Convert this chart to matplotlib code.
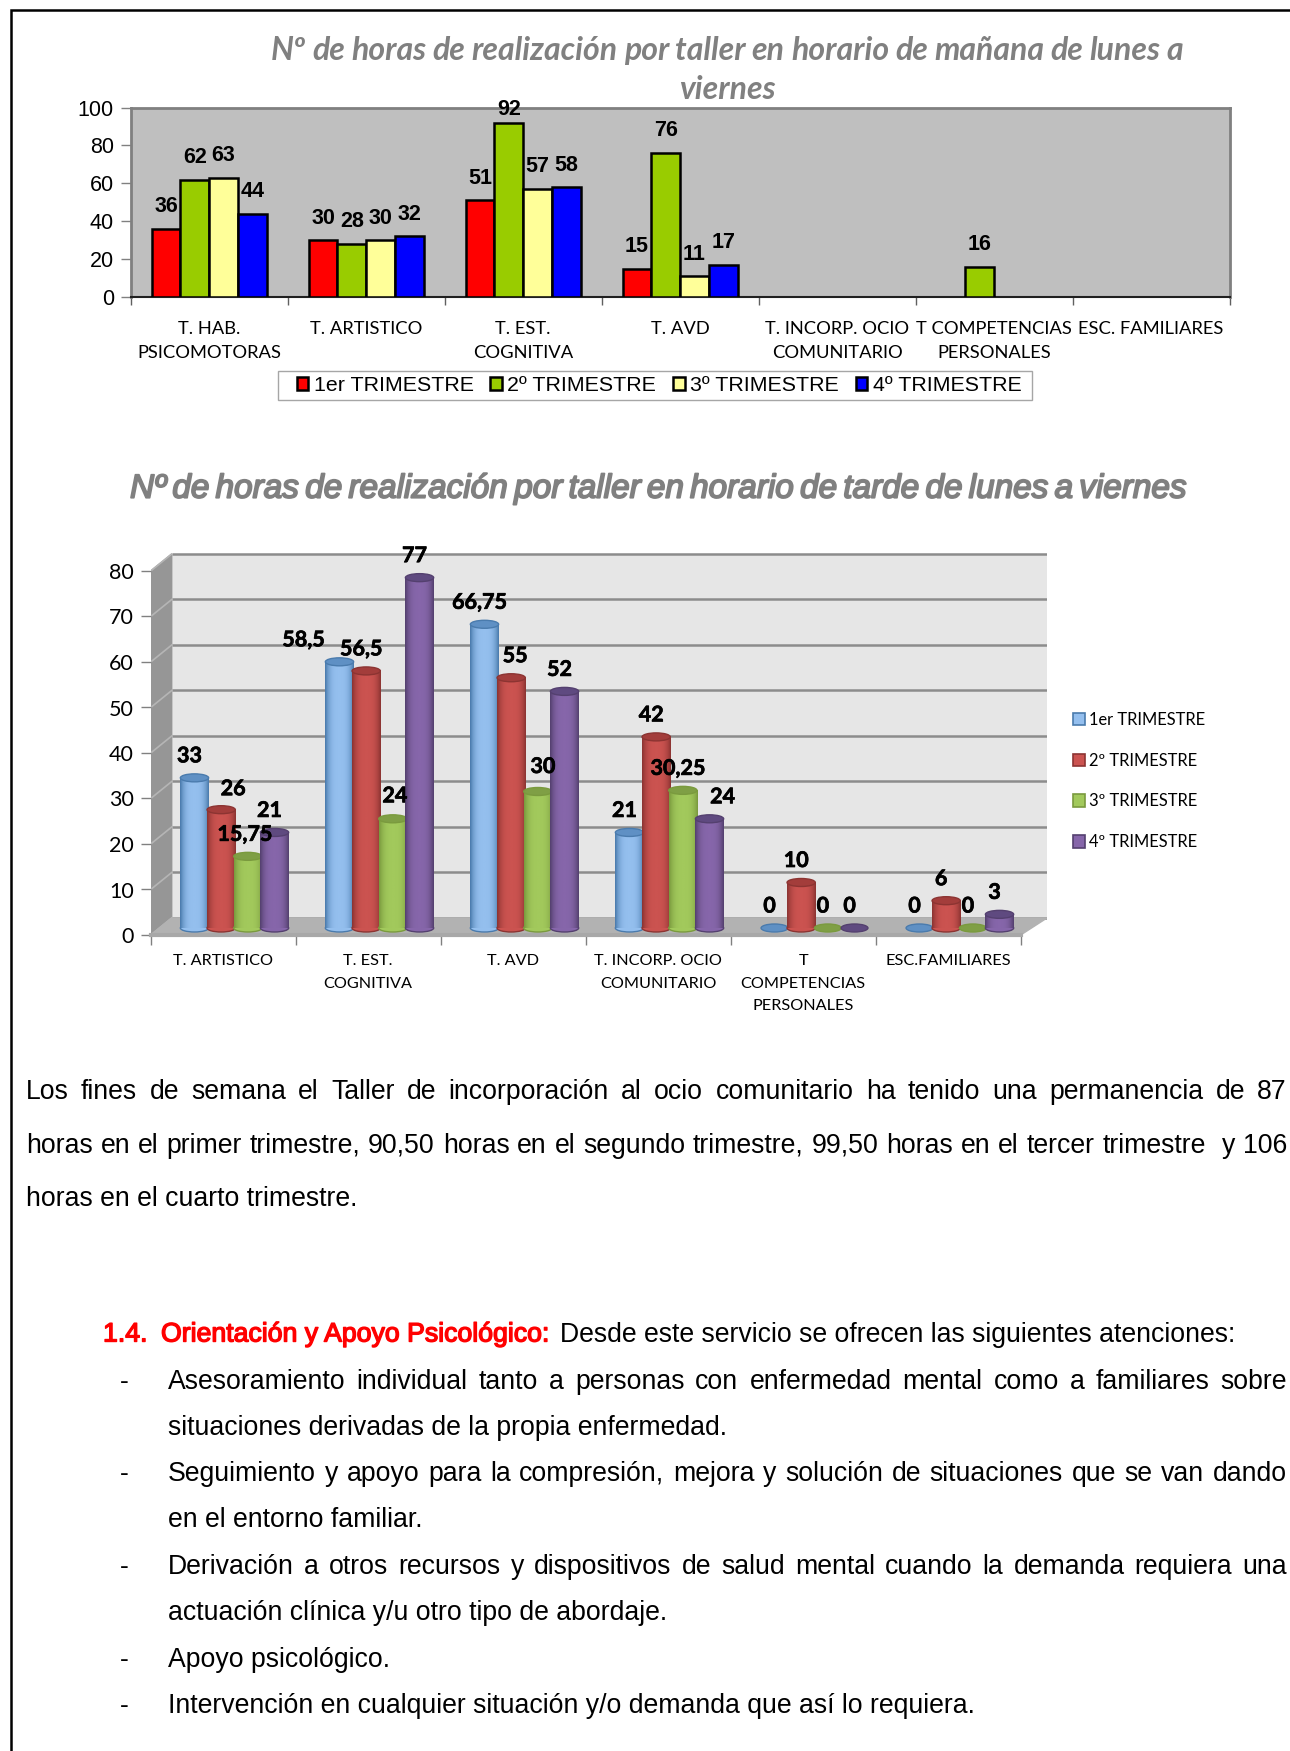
import matplotlib
matplotlib.use('Agg')
import matplotlib.pyplot as plt
import matplotlib.patheffects as pe
from matplotlib.colors import LinearSegmentedColormap
from matplotlib.patches import Ellipse, Patch, Polygon, Rectangle
import numpy as np

W, H = 1290, 1751
nan = float('nan')

# --- chart 1, mañana
cats1 = ['T. HAB.\nPSICOMOTORAS', 'T. ARTISTICO', 'T. EST.\nCOGNITIVA', 'T. AVD',
         'T. INCORP. OCIO\nCOMUNITARIO', 'T COMPETENCIAS\nPERSONALES', 'ESC. FAMILIARES']
m_t1 = [36, 30, 51, 15, nan, nan, nan]
m_t2 = [62, 28, 92, 76, nan, 16, nan]
m_t3 = [63, 30, 57, 11, nan, nan, nan]
m_t4 = [44, 32, 58, 17, nan, nan, nan]
labels1 = ['1er TRIMESTRE', '2º TRIMESTRE', '3º TRIMESTRE', '4º TRIMESTRE']
colors1 = ['#ff0000', '#99cc00', '#ffff99', '#0000ff']

# --- chart 2, tarde
cats2 = ['T. ARTISTICO', 'T. EST.\nCOGNITIVA', 'T. AVD', 'T. INCORP. OCIO\nCOMUNITARIO',
         'T\nCOMPETENCIAS\nPERSONALES', 'ESC.FAMILIARES']
t_t1 = [33, 58.5, 66.75, 21, 0, 0]
t_t2 = [26, 56.5, 55, 42, 10, 6]
t_t3 = [15.75, 24, 30, 30.25, 0, 0]
t_t4 = [21, 77, 52, 24, 0, 3]
labels2 = ['1er TRIMESTRE', '2º TRIMESTRE', '3º TRIMESTRE', '4º TRIMESTRE']
# borde, centro, tapa
cyl_colors = [('#4a7bad', '#94bfee', '#5f90c4'),
              ('#8c3432', '#cb5350', '#a33d3b'),
              ('#7a9a3e', '#a2c95c', '#7f9f45'),
              ('#54406f', '#8666aa', '#5f4a80')]

# texto
par1 = ['Los fines de semana el Taller de incorporación al ocio comunitario ha tenido una permanencia de 87',
        'horas en el primer trimestre, 90,50 horas en el segundo trimestre, 99,50 horas en el tercer trimestre  y 106']
par1_end = 'horas en el cuarto trimestre.'
items = [('Asesoramiento individual tanto a personas con enfermedad mental como a familiares sobre', True, 1388.5, True),
         ('situaciones derivadas de la propia enfermedad.', False, 1434.5, False),
         ('Seguimiento y apoyo para la compresión, mejora y solución de situaciones que se van dando', True, 1481, True),
         ('en el entorno familiar.', False, 1527, False),
         ('Derivación a otros recursos y dispositivos de salud mental cuando la demanda requiera una', True, 1573.5, True),
         ('actuación clínica y/u otro tipo de abordaje.', False, 1620, False),
         ('Apoyo psicológico.', True, 1666.5, False),
         ('Intervención en cualquier situación y/o demanda que así lo requiera.', True, 1713, False)]

BODY = 'Liberation Sans'
CALI = 'Lato'
BODY_SIZE = 19.2

fig = plt.figure(figsize=(W / 100, H / 100), dpi=100, facecolor='white')
rend = fig.canvas.get_renderer()


def put(x, y, s, **kw):
    kw.setdefault('va', 'baseline')
    return fig.text(x / W, 1 - y / H, s, **kw)


def justify(s, x0, x1, y, **kw):
    words = s.split(' ')
    tt = [put(x0, y, w, **kw) if w else None for w in words]
    ww = [t.get_window_extent(rend).width if t else 0 for t in tt]
    gap = (x1 - x0 - sum(ww)) / (len(words) - 1)
    x = x0
    for t, w in zip(tt, ww):
        if t:
            t.set_x(x / W)
        x += w + gap


def px_axes(x0, y_top, x1, y_bot):
    return fig.add_axes([x0 / W, 1 - y_bot / H, (x1 - x0) / W, (y_bot - y_top) / H])


def fake_bold(color, lw=0.9):
    return [pe.withStroke(linewidth=lw, foreground=color)]


# marco de la página
frame = fig.add_axes([0, 0, 1, 1], zorder=-5)
frame.set_xlim(0, W)
frame.set_ylim(H, 0)
frame.axis('off')
frame.plot([11, 11, W], [H, 10, 10], color='black', lw=1.8, solid_joinstyle='miter')
# caja de la leyenda de arriba
frame.add_patch(Rectangle((278, 371), 754, 29, facecolor='white', edgecolor='#a6a6a6', lw=1))

# ---------- chart 1
justify('Nº de horas de realización por taller en horario de mañana de lunes a', 271, 1183, 60.2,
        family=CALI, style='italic', weight='bold', fontsize=23, color='#808080')
put(727, 99.2, 'viernes', family=CALI, style='italic', weight='bold', fontsize=23, color='#808080', ha='center')

ax1 = px_axes(130.6, 107.5, 1229.6, 297)
ax1.set_facecolor('#bfbfbf')
x1 = np.arange(len(cats1))
bw1 = 0.183
series1 = [m_t1, m_t2, m_t3, m_t4]
label_off1 = {(2, 1): 13}
for k, vals in enumerate(series1):
    pos = x1 + (k - 1.5) * bw1
    ax1.bar(pos, vals, bw1, color=colors1[k], edgecolor='black', lw=1.8, zorder=3, label=labels1[k])
    for i, v in enumerate(vals):
        if not np.isnan(v):
            ax1.annotate(str(v), (pos[i], v), xytext=(0, label_off1.get((i, k), 22)),
                         textcoords='offset pixels', ha='center', va='center', family=BODY,
                         weight='bold', fontsize=15.5, color='black', zorder=5, annotation_clip=False)
ax1.set_xlim(-0.5, len(cats1) - 0.5)
ax1.set_ylim(0, 100)
ax1.set_yticks(range(0, 101, 20))
ax1.tick_params(axis='y', labelsize=15.5, length=7, color='#808080', width=1, pad=5)
for t in ax1.get_yticklabels():
    t.set_family(BODY)
ax1.set_xticks(np.arange(len(cats1) + 1) - 0.5)
ax1.set_xticklabels([])
ax1.tick_params(axis='x', which='major', length=6, color='#606060', width=1)
ax1.set_xticks(x1, cats1, minor=True)
ax1.tick_params(axis='x', which='minor', length=0, pad=17, labelsize=13.2)
for t in ax1.get_xticklabels(minor=True):
    t.set_family(CALI)
    t.set_linespacing(1.65)
for s in ['top', 'right', 'left']:
    ax1.spines[s].set_color('#808080')
    ax1.spines[s].set_linewidth(2)
ax1.spines['bottom'].set_color('#202020')
ax1.spines['bottom'].set_linewidth(1.5)
leg1 = ax1.legend(ncol=4, loc='center', bbox_to_anchor=(659 / W, 1 - 385.5 / H), bbox_transform=fig.transFigure,
                  frameon=False, prop={'family': BODY, 'size': 15.4}, handlelength=0.55, handleheight=0.6,
                  handletextpad=0.25, columnspacing=0.78, borderpad=0, borderaxespad=0)

# ---------- chart 2
justify('Nº de horas de realización por taller en horario de tarde de lunes a viernes', 130, 1187, 497.7,
        family=BODY, style='italic', fontsize=24, color='#808080', path_effects=fake_bold('#808080', 1.3))

px_cat = 145.0
px_unit = 4.55
x_right = 1047
ax2 = px_axes(150.7, 553, x_right, 935)
ax2.set_xlim(-0.5, (x_right - 150.7) / px_cat - 0.5)
ax2.set_ylim(0, (935 - 553) / px_unit)
ax2.set_facecolor('white')
dep_x = 21 / px_cat
dep_y = 17 / px_unit
n2 = len(cats2)
x_end = ax2.get_xlim()[1]
wall_l = -0.5 + dep_x

ax2.add_patch(Polygon([(wall_l, dep_y), (x_end, dep_y), (x_end, 80 + dep_y), (wall_l, 80 + dep_y)],
                      color='#e6e6e6', zorder=1))
ax2.add_patch(Polygon([(-0.5, 0), (wall_l, dep_y), (wall_l, 80 + dep_y), (-0.5, 80)],
                      color='#969696', zorder=1))
ax2.add_patch(Polygon([(-0.5, 0), (n2 - 0.5, 0), (x_end, dep_y), (wall_l, dep_y)],
                      color='#b2b2b2', zorder=1.5))
for v in range(0, 90, 10):
    ax2.plot([wall_l, x_end], [v + dep_y] * 2, color='#8c8c8c', lw=1.8, zorder=1.2, solid_capstyle='butt')
    ax2.plot([-0.5, wall_l], [v, v + dep_y], color='#b5b5b5', lw=1.2, zorder=1.2)
ax2.plot([-0.5, n2 - 0.5], [0, 0], color='#a8a8a8', lw=3, zorder=1.6, clip_on=False)

series2 = [t_t1, t_t2, t_t3, t_t4]
cx = np.arange(n2) + 0.078
step = 0.184
bw2 = 0.195
base = 7 / px_unit
cap_h = 8 / px_unit
x2 = np.arange(n2)
label_off2 = {(1, 0): (-36, 22), (0, 1): (12, 21), (1, 2): (2, 23), (2, 1): (4, 22), (2, 2): (5, 25),
              (3, 3): (13, 22), (0, 2): (-3, 22)}
grad = np.abs(np.linspace(-1, 1, 40)) ** 3
grad = grad[None, :]
for k, vals in enumerate(series2):
    edge, mid, top = cyl_colors[k]
    cmap = LinearSegmentedColormap.from_list('c%d' % k, [mid, edge])
    pos = cx + (k - 1.5) * step
    for i, v in enumerate(vals):
        z = 3 + k * 0.1 + i
        top_y = base + v
        if v > 0:
            ax2.add_patch(Ellipse((pos[i], base), bw2, cap_h, facecolor=mid, edgecolor=edge, lw=1, zorder=z))
            ax2.imshow(grad, extent=[pos[i] - bw2 / 2, pos[i] + bw2 / 2, base, top_y], aspect='auto',
                       cmap=cmap, vmin=0, vmax=1, zorder=z + 0.01, interpolation='bilinear')
        ax2.add_patch(Ellipse((pos[i], top_y), bw2 if v > 0 else bw2 * 0.95, cap_h, facecolor=top, edgecolor=edge,
                              lw=1, zorder=z + 0.02))
        dx, dy = label_off2.get((i, k), (-5, 22))
        ax2.annotate(str(v).replace('.', ','), (pos[i], top_y), xytext=(dx, dy), textcoords='offset pixels',
                     ha='center', va='center', family=CALI, weight='bold', fontsize=15.5, color='black',
                     zorder=20, annotation_clip=False, path_effects=fake_bold('black', 0.5))

ax2.set_xlim(-0.5, (x_right - 150.7) / px_cat - 0.5)
ax2.set_ylim(0, (935 - 553) / px_unit)
ax2.set_yticks(range(0, 81, 10))
ax2.tick_params(axis='y', labelsize=15.5, length=7, color='#808080', width=1, pad=5)
for t in ax2.get_yticklabels():
    t.set_family(CALI)
ax2.set_xticks(np.arange(n2 + 1) - 0.5)
ax2.set_xticklabels([])
ax2.tick_params(axis='x', which='major', length=7, color='#808080', width=1)
ax2.set_xticks(x2, cats2, minor=True)
ax2.tick_params(axis='x', which='minor', length=0, pad=14, labelsize=11.7)
for t in ax2.get_xticklabels(minor=True):
    t.set_family(CALI)
    t.set_linespacing(1.77)
    t.set_verticalalignment('top')
for s in ax2.spines.values():
    s.set_visible(False)
handles2 = [Patch(facecolor=c[1], edgecolor=c[0], lw=1.2, label=l) for c, l in zip(cyl_colors, labels2)]
ax2.legend(handles=handles2, loc='center left', bbox_to_anchor=(1073 / W, 1 - 781 / H), bbox_transform=fig.transFigure,
           frameon=False, prop={'family': CALI, 'size': 11.9}, handlelength=0.7, handleheight=0.8,
           handletextpad=0.25, labelspacing=1.5, borderaxespad=0, borderpad=0)

# ---------- texto
for s, y in zip(par1, [1098.5, 1152.5]):
    justify(s, 26, 1287, y, family=BODY, fontsize=BODY_SIZE, color='black')
put(26, 1205.5, par1_end, family=BODY, fontsize=BODY_SIZE, color='black')

red_fx = fake_bold('#ff0000', 1.0)
put(103, 1341.5, '1.4.', family=BODY, fontsize=BODY_SIZE, color='#ff0000', path_effects=red_fx)
put(161, 1341.5, 'Orientación y Apoyo Psicológico:', family=BODY, fontsize=BODY_SIZE, color='#ff0000', path_effects=red_fx)
put(559.5, 1341.5, 'Desde este servicio se ofrecen las siguientes atenciones:', family=BODY, fontsize=BODY_SIZE, color='black')
for s, dash, y, just in items:
    if dash:
        put(120, y, '-', family=BODY, fontsize=BODY_SIZE, color='black')
    if just:
        justify(s, 168, 1287, y, family=BODY, fontsize=BODY_SIZE, color='black')
    else:
        put(168, y, s, family=BODY, fontsize=BODY_SIZE, color='black')

fig.savefig('out.png', dpi=100)
